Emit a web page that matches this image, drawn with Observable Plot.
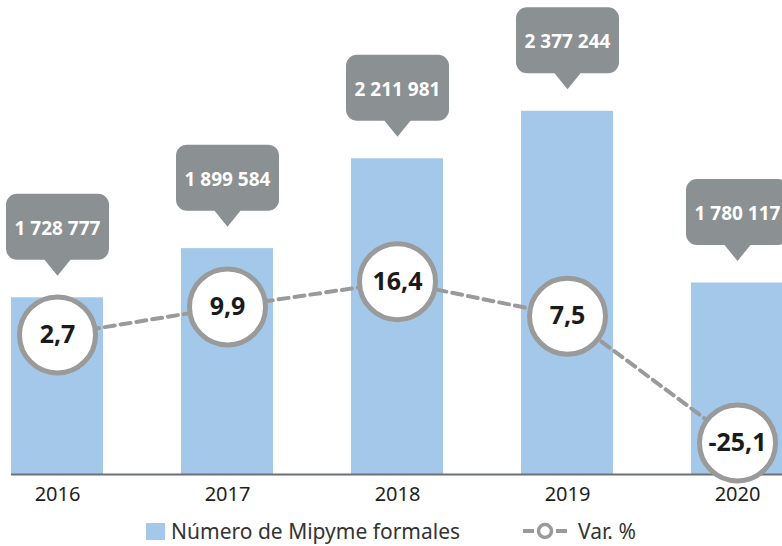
<!DOCTYPE html>
<html><head><meta charset="utf-8">
<script src="https://cdn.jsdelivr.net/npm/d3@7"></script>
<script src="https://cdn.jsdelivr.net/npm/@observablehq/plot@0.6"></script>
<style>
html,body{margin:0;padding:0;background:#fff;overflow:hidden;}
body{width:782px;height:546px;font-family:"Noto Sans",sans-serif;}
#wrap{position:relative;width:782px;height:510px;}
#wrap svg{position:absolute;left:0;top:0;overflow:visible;}
#legend{position:absolute;left:0;top:516px;width:782px;height:30px;display:flex;justify-content:center;align-items:center;color:#333;font-size:21px;line-height:24px;}
.sw{display:inline-block;width:19px;height:17px;background:#a3c8e9;margin-right:6px;}
.gap{display:inline-block;width:62px;}
</style></head><body>
<div id="wrap"></div>
<div id="legend"></div>
<script>
const years = ["2016", "2017", "2018", "2019", "2020"];
const mipymes = [1728777, 1899584, 2211981, 2377244, 1780117];
const varPct = [2.7, 9.9, 16.4, 7.5, -25.1];
const legendLabels = ["Número de Mipyme formales", "Var. %"];

const data = years.map((y, i) => ({year: y, n: mipymes[i], v: varPct[i]}));
const W = 782, H = 510;
const xScale = {type: "band", domain: years, range: [11, 783], paddingInner: 0.46, paddingOuter: 0, axis: null, label: null};
const fmtN = n => d3.format(",")(n).replace(/,/g, " ");
const fmtV = v => d3.format(".1f")(v).replace(".", ",").replace("\u2212", "-");

const callout = {draw(ctx) {
  const w = 51.5, r = 11, b = -38, t = -104, tip = -22, tw = 13;
  ctx.moveTo(0, tip);
  ctx.lineTo(-tw, b);
  ctx.lineTo(-w + r, b);
  ctx.arcTo(-w, b, -w, b - r, r);
  ctx.lineTo(-w, t + r);
  ctx.arcTo(-w, t, -w + r, t, r);
  ctx.lineTo(w - r, t);
  ctx.arcTo(w, t, w, t + r, r);
  ctx.lineTo(w, b - r);
  ctx.arcTo(w, b, w - r, b, r);
  ctx.lineTo(tw, b);
  ctx.closePath();
}};

const yMin = 1114300, yMax = 2762400;
const bars = Plot.plot({
  width: W, height: H,
  marginLeft: 11, marginRight: 0, marginTop: 0, marginBottom: 36,
  style: {fontFamily: "Noto Sans", background: "transparent"},
  x: {...xScale},
  y: {domain: [yMin, yMax], axis: null},
  marks: [
    Plot.barY(data, {x: "year", y1: yMin, y2: "n", fill: "#a3c8e9"}),
    Plot.ruleY([yMin], {stroke: "#6b7177", strokeWidth: 2}),
    Plot.axisX({tickSize: 0, tickPadding: 12, fontSize: 20, color: "#1e1e1e", label: null}),
    Plot.dot(data, {x: "year", y: "n", symbol: callout, r: 5, fill: "#8b9093", stroke: null}),
    Plot.text(data, {x: "year", y: "n", text: d => fmtN(d.n), dy: -69, fill: "white", fontSize: 19, fontWeight: "bold", lineAnchor: "middle"})
  ]
});

const line = Plot.plot({
  width: W, height: H,
  marginLeft: 11, marginRight: 0, marginTop: 0, marginBottom: 36,
  style: {fontFamily: "Noto Sans", background: "transparent"},
  x: {...xScale},
  y: {domain: [-33.23, 88.78], axis: null},
  marks: [
    Plot.line(data, {x: "year", y: "v", stroke: "#9a9a9a", strokeWidth: 4, strokeDasharray: "10,6"}),
    Plot.dot(data, {x: "year", y: "v", r: 38, fill: "white", stroke: "#9a9a9a", strokeWidth: 5}),
    Plot.text(data, {x: "year", y: "v", text: d => fmtV(d.v), fill: "#1a1a1a", fontSize: 25, fontWeight: "bold", lineAnchor: "middle"})
  ]
});

const wrap = document.getElementById("wrap");
wrap.appendChild(bars);
wrap.appendChild(line);

const lg = document.getElementById("legend");
lg.innerHTML = `<span class="sw"></span><span>${legendLabels[0]}</span><span class="gap"></span>` +
  `<svg width="46" height="20" style="margin-right:10px"><line x1="1" y1="10" x2="12" y2="10" stroke="#9a9a9a" stroke-width="4"/><line x1="34" y1="10" x2="45" y2="10" stroke="#9a9a9a" stroke-width="4"/><circle cx="23" cy="10" r="6.5" fill="white" stroke="#9a9a9a" stroke-width="3.5"/></svg>` +
  `<span>${legendLabels[1]}</span>`;
</script>
</body></html>
